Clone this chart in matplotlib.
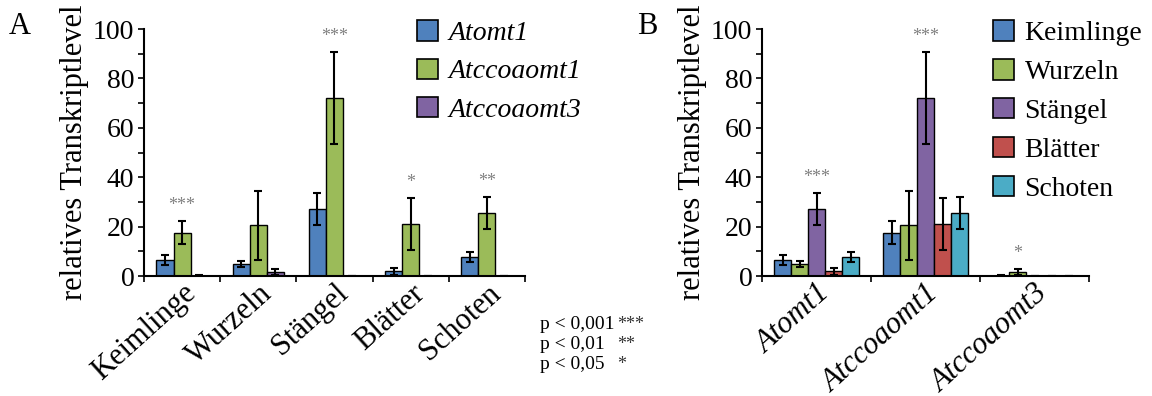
import numpy as np
import matplotlib
matplotlib.use('Agg')
import matplotlib.pyplot as plt
from matplotlib.patches import Patch

plt.rcParams['font.family'] = ['Liberation Serif', 'DejaVu Serif']

# Daten
organe = ['Keimlinge', 'Wurzeln', 'Stängel', 'Blätter', 'Schoten']
gene = ['Atomt1', 'Atccoaomt1', 'Atccoaomt3']

atomt1 = [6.5, 5.0, 27.0, 2.0, 7.8]
atomt1_err = [2.0, 1.2, 6.5, 1.4, 2.0]
atccoaomt1 = [17.6, 20.5, 72.0, 21.0, 25.5]
atccoaomt1_err = [4.5, 14.0, 18.5, 10.5, 6.5]
atccoaomt3 = [0.2, 1.5, 0.1, 0.1, 0.1]
atccoaomt3_err = [0.1, 1.2, 0.05, 0.05, 0.05]

# Signifikanz
sig_a = ['***', '', '***', '*', '**']      # über Atccoaomt1 je Organ
sig_b = ['***', '***', '*']                # je Gen
sig_b_organ = [2, 2, 1]                    # Index des Organs

farben_gene = ['#4F81BD', '#9BBB59', '#8064A2']
farben_organe = ['#4F81BD', '#9BBB59', '#8064A2', '#C0504D', '#4BACC6']

werte = np.array([atomt1, atccoaomt1, atccoaomt3])
fehler = np.array([atomt1_err, atccoaomt1_err, atccoaomt3_err])

fig = plt.figure(figsize=(11.52, 3.96), dpi=100)
ax_a = fig.add_axes([0.125, 0.303, 0.3307, 0.6237])
ax_b = fig.add_axes([0.6615, 0.303, 0.2839, 0.6237])

def achsen_stil(ax, n):
    ax.set_ylim(0, 100)
    ax.set_xlim(0, n)
    ax.spines['top'].set_visible(False)
    ax.spines['right'].set_visible(False)
    ax.spines['left'].set_linewidth(1.5)
    ax.spines['bottom'].set_linewidth(1.5)
    ax.set_yticks(range(0, 101, 20))
    ax.set_yticks(range(10, 100, 20), minor=True)
    ax.tick_params(axis='y', which='both', direction='out', length=4, width=1.2,
                   labelsize=20, pad=3)
    ax.set_xticks(np.arange(n) + 0.5)
    ax.set_xticks(np.arange(n + 1), minor=True)
    ax.tick_params(axis='x', which='major', length=0, pad=2)
    ax.tick_params(axis='x', which='minor', direction='out', length=4, width=1.2)
    ax.set_ylabel('relatives Transkriptlevel', fontsize=22, labelpad=3)

# Panel A
bw_a = 0.225
for i in range(3):
    x = np.arange(5) + 0.5 + (i - 1) * bw_a
    ax_a.bar(x, werte[i], bw_a, color=farben_gene[i], edgecolor='black',
             linewidth=1, yerr=fehler[i], capsize=3,
             error_kw=dict(elinewidth=1.5, capthick=1.5, ecolor='black'), zorder=2)
for j, s in enumerate(sig_a):
    if s:
        ax_a.text(j + 0.5, werte[1][j] + fehler[1][j] + 3, s, ha='center', va='bottom',
                  fontsize=13, color='#808080')
achsen_stil(ax_a, 5)
ax_a.set_xticklabels(organe, rotation=42, ha='right', rotation_mode='anchor', fontsize=22)

# Panel B
bw_b = 0.156
for k in range(5):
    x = np.arange(3) + 0.5 + (k - 2) * bw_b
    ax_b.bar(x, werte[:, k], bw_b, color=farben_organe[k], edgecolor='black',
             linewidth=1, yerr=fehler[:, k], capsize=3,
             error_kw=dict(elinewidth=1.5, capthick=1.5, ecolor='black'), zorder=2)
for g, s in enumerate(sig_b):
    k = sig_b_organ[g]
    ax_b.text(g + 0.5 + (k - 2) * bw_b, werte[g][k] + fehler[g][k] + 3, s,
              ha='center', va='bottom', fontsize=13, color='#808080')
achsen_stil(ax_b, 3)
ax_b.set_xticklabels(gene, rotation=42, ha='right', rotation_mode='anchor', fontsize=22,
                     style='italic')

# Legenden
h_a = [Patch(facecolor=c, edgecolor='black', linewidth=1.2) for c in farben_gene]
fig.legend(h_a, gene, loc='upper left', bbox_to_anchor=(0.34, 1.012), frameon=False,
           handlelength=0.75, handleheight=0.75, handletextpad=0.4, labelspacing=0.45,
           prop=dict(size=20, style='italic'))
h_b = [Patch(facecolor=c, edgecolor='black', linewidth=1.2) for c in farben_organe]
fig.legend(h_b, organe, loc='upper left', bbox_to_anchor=(0.84, 1.012), frameon=False,
           handlelength=0.75, handleheight=0.75, handletextpad=0.4, labelspacing=0.47,
           prop=dict(size=20))

# Panel-Buchstaben
fig.text(0.008, 0.915, 'A', fontsize=22)
fig.text(0.553, 0.915, 'B', fontsize=22)

# p-Werte
p_text = ['p < 0,001', 'p < 0,01', 'p < 0,05']
p_sterne = ['***', '**', '*']
for i, (t, s) in enumerate(zip(p_text, p_sterne)):
    y = 0.18 - i * 0.05
    fig.text(0.469, y, t, fontsize=14, va='center')
    fig.text(0.536, y, s, fontsize=13, va='center', color='#333333')

fig.savefig('out.png', dpi=100)
